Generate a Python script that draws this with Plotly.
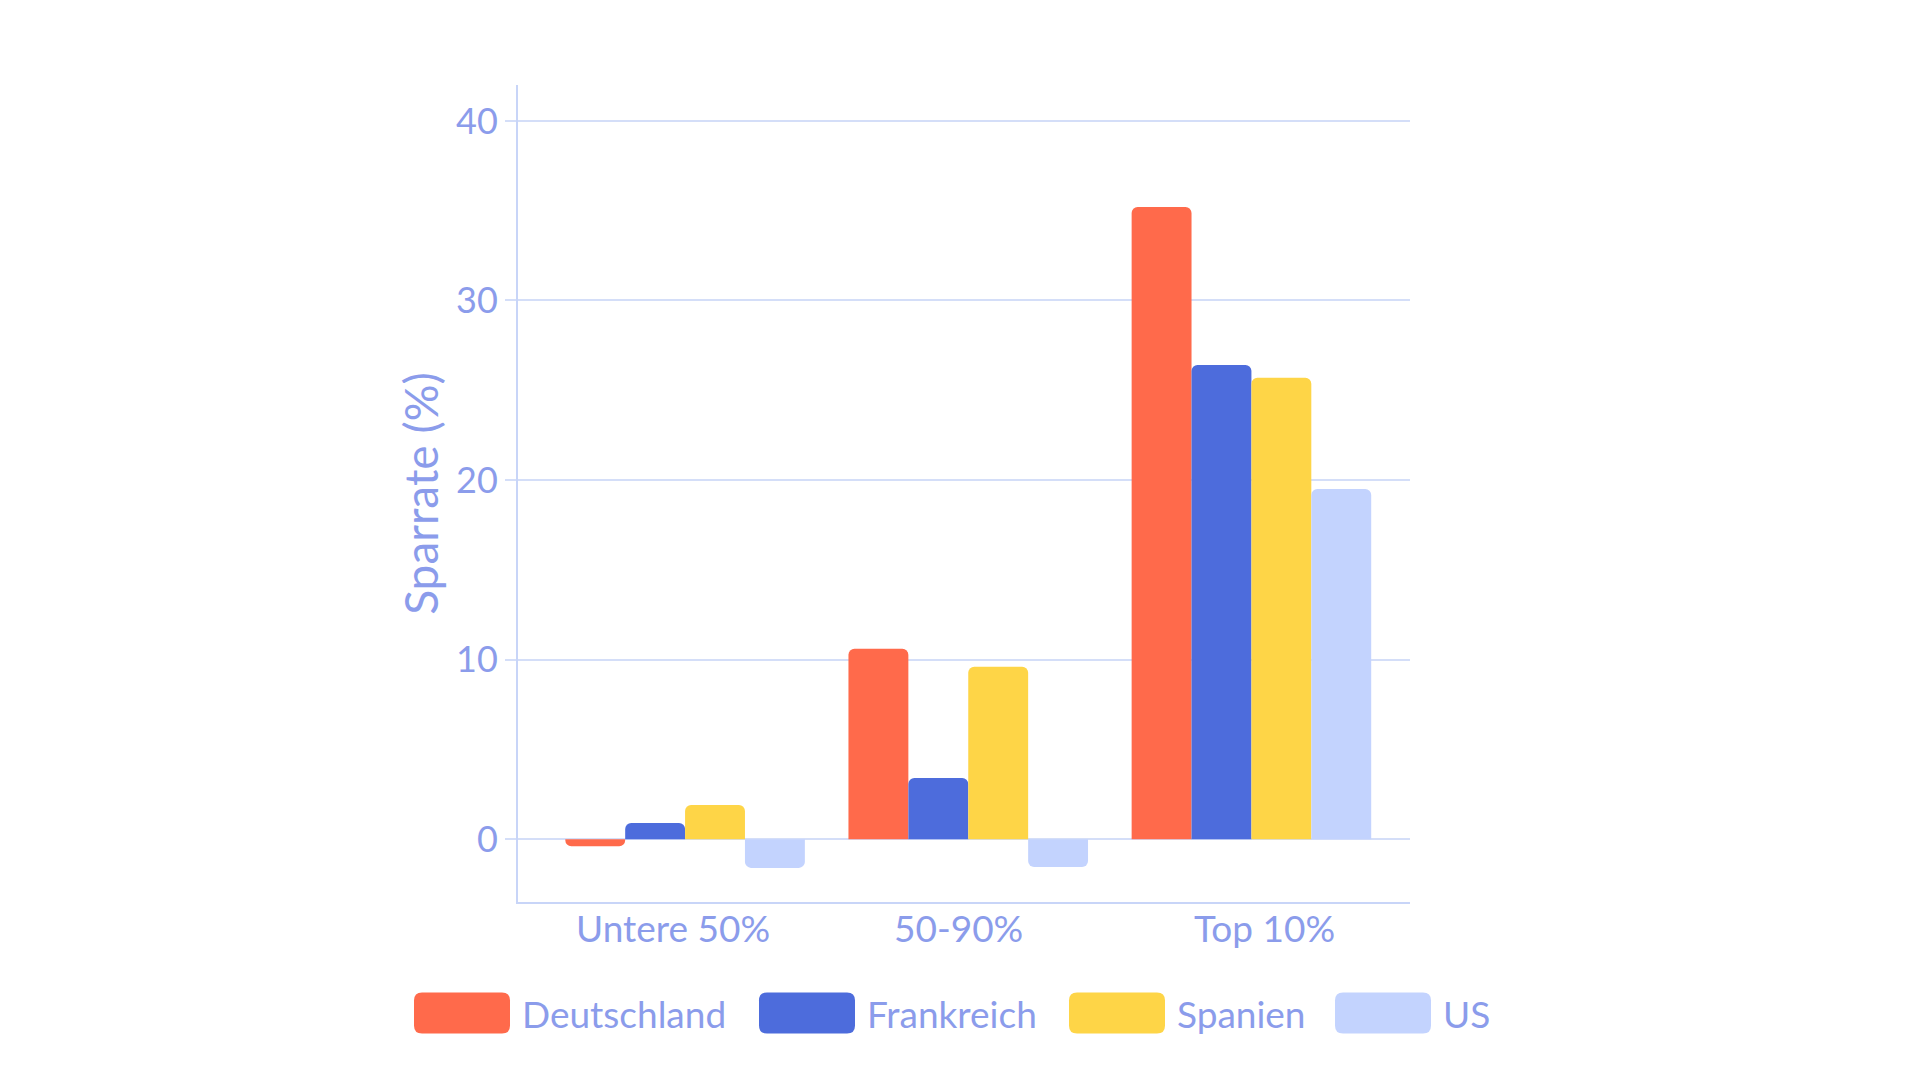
import plotly.graph_objects as go

categories = ["Untere 50%", "50-90%", "Top 10%"]
countries = ["Deutschland", "Frankreich", "Spanien", "US"]
deutschland = [-0.4, 10.6, 35.2]
frankreich = [0.9, 3.4, 26.4]
spanien = [1.9, 9.6, 25.7]
us = [-1.6, -1.55, 19.5]
y_ticks = [0, 10, 20, 30, 40]

series = [deutschland, frankreich, spanien, us]
colors = ["#FF6A4B", "#4D6CDC", "#FED547", "#C3D3FE"]
TEXT = "#8B9CEB"
LINE = "#C8D5F8"
GRID = "#D4DEF8"
FONT = "Lato"

W, H = 1920, 1080
L, R, T, B = 518, 1410, 85, 902

fig = go.Figure()
for name, vals, col in zip(countries, series, colors):
    fig.add_trace(go.Bar(x=categories, y=vals, name=name, marker=dict(color=col, cornerradius=6, line=dict(width=0)),
                         showlegend=False))

fig.update_layout(
    width=W, height=H,
    margin=dict(l=L, r=W - R, t=T, b=H - B, autoexpand=False),
    paper_bgcolor="white", plot_bgcolor="white",
    barmode="group", bargap=0.154, bargroupgap=0,
    font=dict(family=FONT, color=TEXT, size=34),
)
fig.update_xaxes(range=[-0.59, 2.56], showgrid=False, showline=True, linecolor=LINE, linewidth=2,
                 ticks="", showticklabels=False)
fig.update_yaxes(range=[-3.5, 42], tickvals=y_ticks, showgrid=True, gridcolor=GRID, gridwidth=1.5,
                 zeroline=False, showline=True, linecolor=LINE, linewidth=2,
                 ticks="outside", ticklen=11, tickcolor=GRID, tickwidth=1.5,
                 tickfont=dict(size=36, color=TEXT), ticklabelstandoff=0,
                 title=dict(text="Sparrate (%)", font=dict(size=46, color=TEXT), standoff=3))

def px_x(px):
    return (px - L) / (R - L)

def px_y(py):
    return (B - py) / (B - T)

# category labels (slightly offset as in the reference)
label_shift = [-12, -10, 13]
for cat, dx in zip(categories, label_shift):
    fig.add_annotation(x=cat, xref="x", y=px_y(927), yref="paper", text=cat, showarrow=False,
                       xanchor="center", yanchor="middle", xshift=dx,
                       font=dict(family=FONT, size=37, color=TEXT))

# manual legend
swatch_left = [414, 759, 1069, 1335]
sw_w, sw_h, rad = 96, 41, 8
leg_cy = 1013
for name, col, x0 in zip(countries, colors, swatch_left):
    w2, h2 = sw_w / 2, sw_h / 2
    path = (f"M {-w2+rad},{-h2} L {w2-rad},{-h2} Q {w2},{-h2} {w2},{-h2+rad} "
            f"L {w2},{h2-rad} Q {w2},{h2} {w2-rad},{h2} L {-w2+rad},{h2} "
            f"Q {-w2},{h2} {-w2},{h2-rad} L {-w2},{-h2+rad} Q {-w2},{-h2} {-w2+rad},{-h2} Z")
    fig.add_shape(type="path", xref="paper", yref="paper", xsizemode="pixel", ysizemode="pixel",
                  xanchor=px_x(x0 + sw_w / 2), yanchor=px_y(leg_cy), path=path,
                  fillcolor=col, line=dict(width=0), layer="above")
    fig.add_annotation(x=px_x(x0 + sw_w + 10), y=px_y(leg_cy), xref="paper", yref="paper",
                       text=name, showarrow=False, xanchor="left", yanchor="middle",
                       font=dict(family=FONT, size=37, color=TEXT))

fig.write_html("out.html")
